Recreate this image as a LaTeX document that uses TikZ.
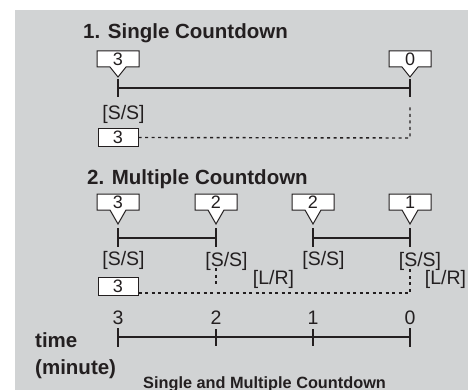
\documentclass[tikz,border=0pt]{standalone}
\usepackage{fontspec}
\setmainfont{Liberation Sans}
\definecolor{bg}{RGB}{209,211,212}
\definecolor{ink}{RGB}{35,31,32}
\newcommand\mycallout[5]{% name, x, top, tip, text
  \filldraw[fill=white, draw=ink, line width=1pt, line join=miter]
    (#2-21,#3) -- (#2+21,#3) -- (#2+21,#3+16) -- (#2+8,#3+16) -- (#2,#4)
    -- (#2-8,#3+16) -- (#2-21,#3+16) -- cycle;
  \node[lbl, font=\fontsize{18}{18}\selectfont, anchor=base] (#1) at (#2,#3+14.5) {#5};}
\begin{document}
\begin{tikzpicture}[x=1pt,y=-1pt,
  tl/.style={line width=1.4pt, draw=ink},
  tk/.style={line width=2.8pt, draw=ink},
  dotln/.style={line width=1.4pt, draw=ink, dash pattern=on 3pt off 3.5pt},
  lbl/.style={font=\fontsize{19.5}{19.5}\selectfont, text=ink, inner sep=0pt},
  ttl/.style={font=\bfseries\fontsize{20.5}{20.5}\selectfont, text=ink, inner sep=0pt, anchor=base west},
  smallbox/.style={lbl, font=\fontsize{18}{18}\selectfont, draw=ink, fill=white, line width=1pt, minimum width=40pt, minimum height=18pt}]
\useasboundingbox (0,0) rectangle (468,390);
\fill[bg] (15,10) rectangle (468,390);

% ---- 1. Single Countdown
\node[ttl] (t1) at (83,38.5) {1. Single Countdown};
\mycallout{c13}{118}{51}{77}{3}
\mycallout{c10}{410}{51}{77}{0}
\coordinate (a1) at (118,88);
\coordinate (a2) at (410,88);
\draw[tl] (a1) -- (a2);
\draw[tk] (118,79) -- (118,97);
\draw[tk] (410,79) -- (410,97);
\node[lbl] (s11) at (123.5,114.5) {[S/S]};
\node[smallbox] (b1) at (118,137.5) {3};
\coordinate (d1) at (410,138);
\coordinate (d1t) at (410,105);
\draw[dotln] (b1.east) -- (d1) -- (d1t);

% ---- 2. Multiple Countdown
\node[ttl] (t2) at (87,184) {2. Multiple Countdown};
\mycallout{c23}{118}{194}{224}{3}
\mycallout{c22a}{216}{194}{224}{2}
\mycallout{c22b}{313}{194}{224}{2}
\mycallout{c21}{410}{194}{224}{1}
\coordinate (m1) at (118,238);
\coordinate (m2) at (216,238);
\coordinate (m3) at (313,238);
\coordinate (m4) at (410,238);
\draw[tl] (m1) -- (m2);
\draw[tl] (m3) -- (m4);
\foreach \xx in {118,216,313,410} {\draw[tk] (\xx,228) -- (\xx,247);}
\node[lbl] (s21) at (123.5,260.5) {[S/S]};
\node[lbl] (s22) at (226.5,261) {[S/S]};
\node[lbl] (s23) at (323.5,260.5) {[S/S]};
\node[lbl] (s24) at (420,261) {[S/S]};
\node[lbl] (l21) at (273.5,279) {[L/R]};
\node[lbl] (l22) at (445.5,279) {[L/R]};
\node[smallbox] (b2) at (118,286) {3};
\coordinate (e1) at (410,293);
\coordinate (e1t) at (410,267);
\coordinate (f1) at (216,287);
\coordinate (f1t) at (216,268);
\draw[dotln] (b2.east |- e1) -- (e1) -- (e1t);
\draw[dotln] (f1t) -- (f1);

% ---- time axis
\coordinate (x3) at (118,337);
\coordinate (x2) at (216,337);
\coordinate (x1) at (313,337);
\coordinate (x0) at (410,337);
\draw[tl] (x3) -- (x0);
\draw[tk] (118,328) -- (118,347);
\draw[tk] (216,329) -- (216,346);
\draw[tk] (313,329) -- (313,346);
\draw[tk] (410,328) -- (410,347);
\node[lbl, anchor=base] (n3) at (118,324) {3};
\node[lbl, anchor=base] (n2) at (216,324) {2};
\node[lbl, anchor=base] (n1) at (313,324) {1};
\node[lbl, anchor=base] (n0) at (410,324) {0};
\node[ttl] (tm) at (35,347) {time};
\node[ttl] (mn) at (35,374) {(minute)};
\node[ttl, font=\bfseries\fontsize{16.3}{16.3}\selectfont] (cap) at (143,388) {Single and Multiple Countdown};
\end{tikzpicture}
\end{document}
